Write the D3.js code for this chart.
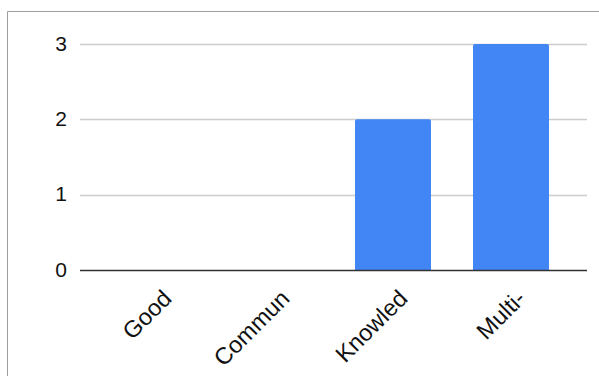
<!DOCTYPE html>
<html><head><meta charset="utf-8">
<script src="https://cdn.jsdelivr.net/npm/d3@7"></script>
<style>body{margin:0;background:#fff}svg{display:block}</style>
</head><body>
<script>
const categories = ["Good", "Commun", "Knowled", "Multi-"];
const values = [0, 0, 2, 3];
const yTicks = [0, 1, 2, 3];

const W = 599, H = 376;
const svg = d3.select("body").append("svg").attr("width", W).attr("height", H);

// outer frame (top and left)
svg.append("line").attr("x1", 7.5).attr("x2", W).attr("y1", 11.5).attr("y2", 11.5).attr("stroke", "#9e9e9e");
svg.append("line").attr("x1", 7.5).attr("x2", 7.5).attr("y1", 11.5).attr("y2", H).attr("stroke", "#9e9e9e");

const gridX0 = 80, gridX1 = 587;
const x = d3.scaleBand().domain(categories).range([98, 570]).paddingInner(0.356).paddingOuter(0.178);
const y = d3.scaleLinear().domain([0, 3]).range([270, 44]);

// gridlines
svg.append("g").selectAll("line").data(yTicks.filter(d => d !== 0)).join("line")
  .attr("x1", gridX0).attr("x2", gridX1)
  .attr("y1", d => Math.round(y(d)) + 0.5).attr("y2", d => Math.round(y(d)) + 0.5)
  .attr("stroke", "#cccccc").attr("stroke-width", 1.5);

// y labels
svg.append("g").selectAll("text").data(yTicks).join("text")
  .attr("x", 67).attr("y", d => y(d) - 1)
  .attr("dy", "0.36em").attr("text-anchor", "end")
  .attr("font-family", "Liberation Sans, Arial, sans-serif").attr("font-size", 21)
  .attr("fill", "#111").text(d => d);

// bars with slightly rounded top
const r = 2;
svg.append("g").selectAll("path").data(categories.map((c, i) => ({c, v: values[i]})).filter(d => d.v > 0)).join("path")
  .attr("fill", "#4285f4")
  .attr("d", d => {
    const x0 = x(d.c), x1 = x0 + x.bandwidth(), y0 = y(d.v), yb = y(0);
    return `M${x0},${yb}V${y0 + r}Q${x0},${y0} ${x0 + r},${y0}H${x1 - r}Q${x1},${y0} ${x1},${y0 + r}V${yb}Z`;
  });

// baseline
svg.append("line").attr("x1", gridX0).attr("x2", gridX1)
  .attr("y1", Math.round(y(0)) + 0.5).attr("y2", Math.round(y(0)) + 0.5)
  .attr("stroke", "#333").attr("stroke-width", 1.5);

// x labels rotated
svg.append("g").selectAll("text").data(categories).join("text")
  .attr("transform", d => `translate(${x(d) + x.bandwidth() / 2 + 16},${300}) rotate(-45)`)
  .attr("text-anchor", "end")
  .attr("font-family", "Liberation Sans, Arial, sans-serif").attr("font-size", 23.5)
  .attr("fill", "#111").text(d => d);
</script>
</body></html>
